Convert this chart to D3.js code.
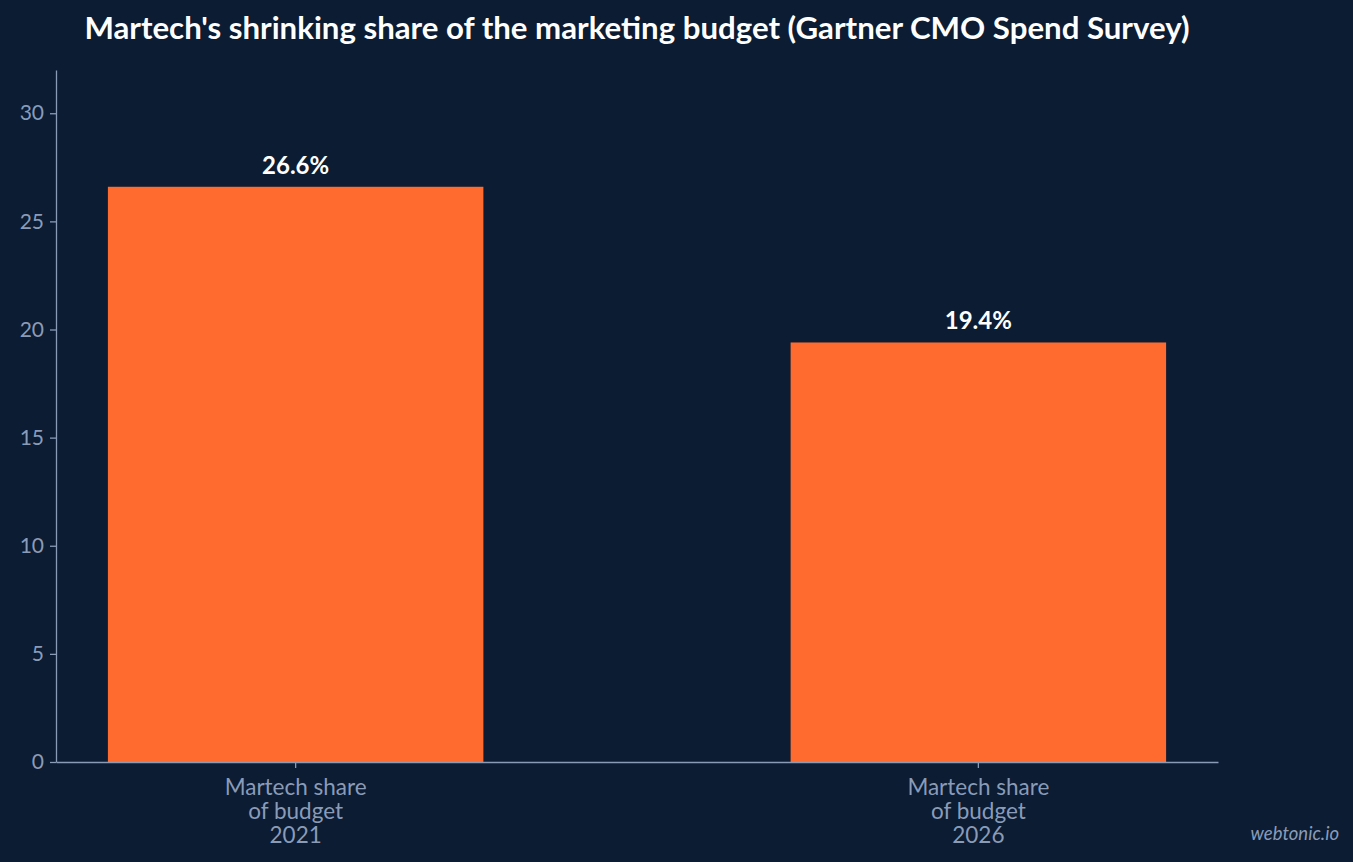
<!DOCTYPE html>
<html><head><meta charset="utf-8">
<script src="https://cdn.jsdelivr.net/npm/d3@7"></script>
<style>body{margin:0;background:#0b1c33;}svg{display:block;font-family:Lato,sans-serif;}</style>
</head><body>
<svg id="c" width="1353" height="862"></svg>
<script>
const categories = [["Martech share","of budget","2021"],["Martech share","of budget","2026"]];
const values = [26.6, 19.4];
const yTicks = [0,5,10,15,20,25,30];
const svg = d3.select("#c");
svg.append("rect").attr("width",1353).attr("height",862).attr("fill","#0b1c33");
const x = d3.scaleBand().domain([0,1]).range([56,1218]).paddingInner(0.45).paddingOuter(0.076);
const y = d3.scaleLinear().domain([0,32]).range([762,70]);
svg.append("text").attr("x",637).attr("y",39).attr("text-anchor","middle").attr("fill","#fff")
  .attr("font-size",31.2).attr("font-weight",700).text("Martech's shrinking share of the marketing budget (Gartner CMO Spend Survey)");
svg.selectAll(".bar").data(values).join("rect").attr("x",(d,i)=>x(i)).attr("width",x.bandwidth())
  .attr("y",d=>y(d)).attr("height",d=>y(0)-y(d)).attr("fill","#ff6b2e");
svg.selectAll(".lbl").data(values).join("text").attr("x",(d,i)=>x(i)+x.bandwidth()/2).attr("y",d=>y(d)-13)
  .attr("text-anchor","middle").attr("fill","#fff").attr("font-size",24).attr("font-weight",700).text(d=>d.toFixed(1)+"%");
const ya = svg.append("g").attr("transform","translate(56,0)").call(d3.axisLeft(y).tickValues(yTicks).tickSize(6).tickSizeOuter(0));
const xa = svg.append("g").attr("transform","translate(0,762)").call(d3.axisBottom(x).tickSize(6).tickSizeOuter(0).tickFormat(""));
[ya,xa].forEach(a=>{a.selectAll("line,path").attr("stroke","#8a9bb8").attr("stroke-width",1.3);
 a.selectAll("text").attr("fill","#8a9bb8").attr("font-size",21).attr("font-family","Lato");});
ya.selectAll("text").attr("dx",-3);
categories.forEach((c,i)=>{
  const t = svg.append("text").attr("text-anchor","middle").attr("fill","#8a9bb8").attr("font-size",22.5);
  c.forEach((s,j)=>t.append("tspan").attr("x",x(i)+x.bandwidth()/2).attr("y",795+j*24).text(s));
});
svg.append("text").attr("x",1339).attr("y",840).attr("text-anchor","end").attr("fill","#8a9bb8")
  .attr("font-size",18.5).attr("font-style","italic").text("webtonic.io");
</script></body></html>
